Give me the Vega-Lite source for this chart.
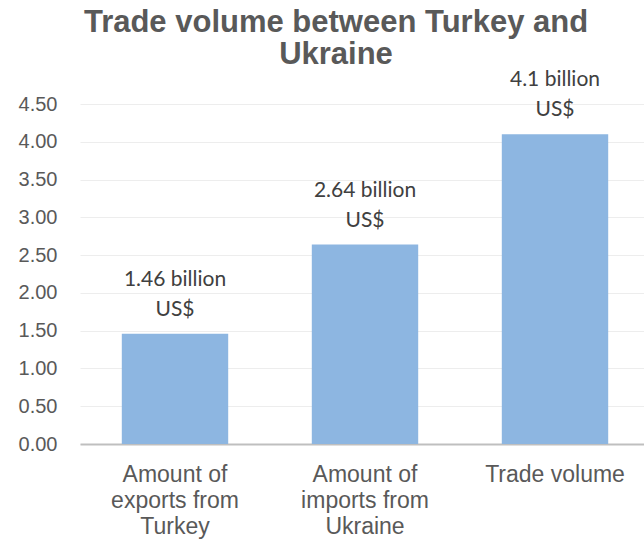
{
  "$schema": "https://vega.github.io/schema/vega-lite/v6.json",
  "autosize": "none",
  "width": 570,
  "height": 340,
  "padding": {"left": 80, "top": 104, "right": 0, "bottom": 99},
  "background": "white",
  "title": {
    "text": ["Trade volume between Turkey and", "Ukraine"],
    "font": "Liberation Sans",
    "fontSize": 31,
    "fontWeight": "bold",
    "color": "#595959",
    "anchor": "middle",
    "dx": -29,
    "offset": -2,
    "lineHeight": 32
  },
  "data": {
    "values": [
      {"category": "Amount of|exports from|Turkey", "value": 1.46, "label": "1.46 billion|US$"},
      {"category": "Amount of|imports from|Ukraine", "value": 2.64, "label": "2.64 billion|US$"},
      {"category": "Trade volume", "value": 4.1, "label": "4.1 billion|US$"}
    ]
  },
  "encoding": {
    "x": {
      "field": "category",
      "type": "nominal",
      "sort": null,
      "scale": {"paddingInner": 0.44, "paddingOuter": 0.22},
      "axis": {
        "title": null,
        "labelAngle": 0,
        "labelExpr": "split(datum.label, '|')",
        "labelFont": "Liberation Sans",
        "labelFontSize": 23,
        "labelColor": "#595959",
        "labelLineHeight": 26,
        "labelPadding": 19,
        "ticks": false,
        "domainColor": "#bfbfbf",
        "domainWidth": 2,
        "grid": false
      }
    },
    "y": {
      "field": "value",
      "type": "quantitative",
      "scale": {"domain": [0, 4.5], "nice": false},
      "axis": {
        "title": null,
        "values": [0, 0.5, 1, 1.5, 2, 2.5, 3, 3.5, 4, 4.5],
        "format": ".2f",
        "labelFont": "Liberation Sans",
        "labelFontSize": 20,
        "labelColor": "#595959",
        "labelPadding": 23,
        "ticks": false,
        "domain": false,
        "grid": true,
        "gridColor": "#ededed",
        "gridWidth": 1
      }
    }
  },
  "layer": [
    {"mark": {"type": "bar", "color": "#8DB6E1"}},
    {
      "mark": {
        "type": "text",
        "font": "Lato",
        "fontSize": 21,
        "color": "#404040",
        "baseline": "middle",
        "dy": -54,
        "lineBreak": "|",
        "lineHeight": 30
      },
      "encoding": {"text": {"field": "label"}}
    }
  ],
  "config": {"view": {"stroke": null}}
}
